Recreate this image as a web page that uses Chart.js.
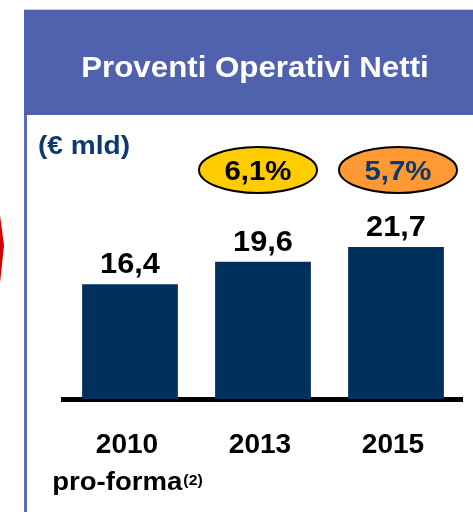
<!DOCTYPE html>
<html>
<head>
<meta charset="utf-8">
<script src="https://cdn.jsdelivr.net/npm/chart.js@4"></script>
<style>
  body { margin: 0; background: #fff; font-family: "Liberation Sans", Arial, sans-serif; }
  #wrap { position: relative; width: 473px; height: 512px; overflow: hidden; }
  #chart { position: absolute; left: 0; top: 0; z-index: 2; }
  .header { position: absolute; left: 24px; top: 9px; width: 449px; height: 106px; background: #5062ae; border-top: 1px solid #c9cde3; box-sizing: border-box; z-index: 1; }
  .title { position: absolute; left: 255px; top: 52px; font-size: 29.5px; line-height: 29.5px; font-weight: bold; color: #fff; white-space: nowrap; transform: translateX(-50%) scaleX(1.06); z-index: 3; }
  .leftline { position: absolute; left: 24px; top: 115px; width: 3px; height: 397px; background: #5b6bbf; }
  .unit { position: absolute; left: 38px; top: 132px; font-size: 26px; line-height: 26px; font-weight: bold; color: #0d3a6c; white-space: nowrap; transform-origin: left center; transform: scaleX(1.08); z-index: 3; }
  .arrow { position: absolute; left: 0; top: 215px; width: 4px; height: 68px; background: #d40000; clip-path: polygon(0 0, 100% 45%, 0 100%); }
</style>
</head>
<body>
<div id="wrap">
  <div class="header"></div>
  <div class="title">Proventi Operativi Netti</div>
  <div class="leftline"></div>
  <div class="arrow"></div>
  <div class="unit">(€ mld)</div>
  <canvas id="chart" width="473" height="512"></canvas>
</div>
<script>
const years = ['2010', '2013', '2015'];
const subLabels = ['pro-forma', '', ''];
const subNotes = ['(2)', '', ''];
const revenues = [16.4, 19.6, 21.7];
const valueLabels = ['16,4', '19,6', '21,7'];
const growthLabels = ['', '6,1%', '5,7%'];
const growthFills = ['', '#ffcc00', '#ff9933'];
const growthText = ['', '#000000', '#0d3a6c'];

const FONT = '"Liberation Sans", Arial, sans-serif';

function wideText(ctx, text, x, y, sx) {
    ctx.save();
    ctx.translate(x, y);
    ctx.scale(sx, 1);
    ctx.fillText(text, 0, 0);
    ctx.restore();
}

const labelsPlugin = {
    id: 'labels',
    afterDatasetsDraw(chart) {
        const ctx = chart.ctx;
        const xScale = chart.scales.x;
        const bars = chart.getDatasetMeta(0).data;
        const bottom = chart.chartArea.bottom;

        ctx.save();
        ctx.textAlign = 'center';
        ctx.textBaseline = 'alphabetic';

        // values above bars
        ctx.fillStyle = '#000';
        ctx.font = 'bold 29px ' + FONT;
        bars.forEach(function(bar, i) {
            wideText(ctx, valueLabels[i], bar.x, bar.y - 11, 1.06);
        });

        // growth ellipses
        bars.forEach(function(bar, i) {
            if (!growthLabels[i]) return;
            const cx = bar.x + (i === 1 ? -5 : 2);
            const cy = 170;
            ctx.beginPath();
            ctx.ellipse(cx, cy, 59, 23, 0, 0, Math.PI * 2);
            ctx.fillStyle = growthFills[i];
            ctx.fill();
            ctx.lineWidth = 2;
            ctx.strokeStyle = '#000';
            ctx.stroke();
            ctx.fillStyle = growthText[i];
            ctx.font = 'bold 28px ' + FONT;
            wideText(ctx, growthLabels[i], cx, cy + 10, 1.05);
        });

        // category labels
        ctx.fillStyle = '#000';
        years.forEach(function(y, i) {
            const x = xScale.getPixelForTick(i);
            ctx.font = 'bold 27px ' + FONT;
            ctx.textAlign = 'center';
            wideText(ctx, y, x - 3, bottom + 54, 1.04);
            if (subLabels[i]) {
                ctx.font = 'bold 26px ' + FONT;
                const w1 = ctx.measureText(subLabels[i]).width * 1.06;
                ctx.font = 'bold 15px ' + FONT;
                const w2 = ctx.measureText(subNotes[i]).width * 1.06;
                const start = x - 3 - (w1 + w2) / 2;
                ctx.textAlign = 'left';
                ctx.font = 'bold 26px ' + FONT;
                wideText(ctx, subLabels[i], start, bottom + 91, 1.06);
                ctx.font = 'bold 15px ' + FONT;
                wideText(ctx, subNotes[i], start + w1 + 1, bottom + 86, 1.06);
            }
        });
        ctx.restore();
    }
};

const ctx = document.getElementById('chart').getContext('2d');
const chart = new Chart(ctx, {
    type: 'bar',
    data: {
        labels: years,
        datasets: [
            {
                label: 'Proventi Operativi Netti',
                data: revenues,
                backgroundColor: '#00305e',
                barPercentage: 0.72,
                categoryPercentage: 1
            }
        ]
    },
    options: {
        responsive: false,
        animation: false,
        layout: {
            padding: { top: 189, left: 63.5, right: 10.5, bottom: 113 }
        },
        plugins: {
            legend: { display: false },
            tooltip: { enabled: false }
        },
        scales: {
            x: {
                grid: { display: false, drawTicks: false },
                ticks: { display: false },
                border: { display: true, color: '#000', width: 5 }
            },
            y: {
                display: false,
                min: 0,
                max: 30
            }
        }
    },
    plugins: [labelsPlugin]
});
</script>
</body>
</html>
